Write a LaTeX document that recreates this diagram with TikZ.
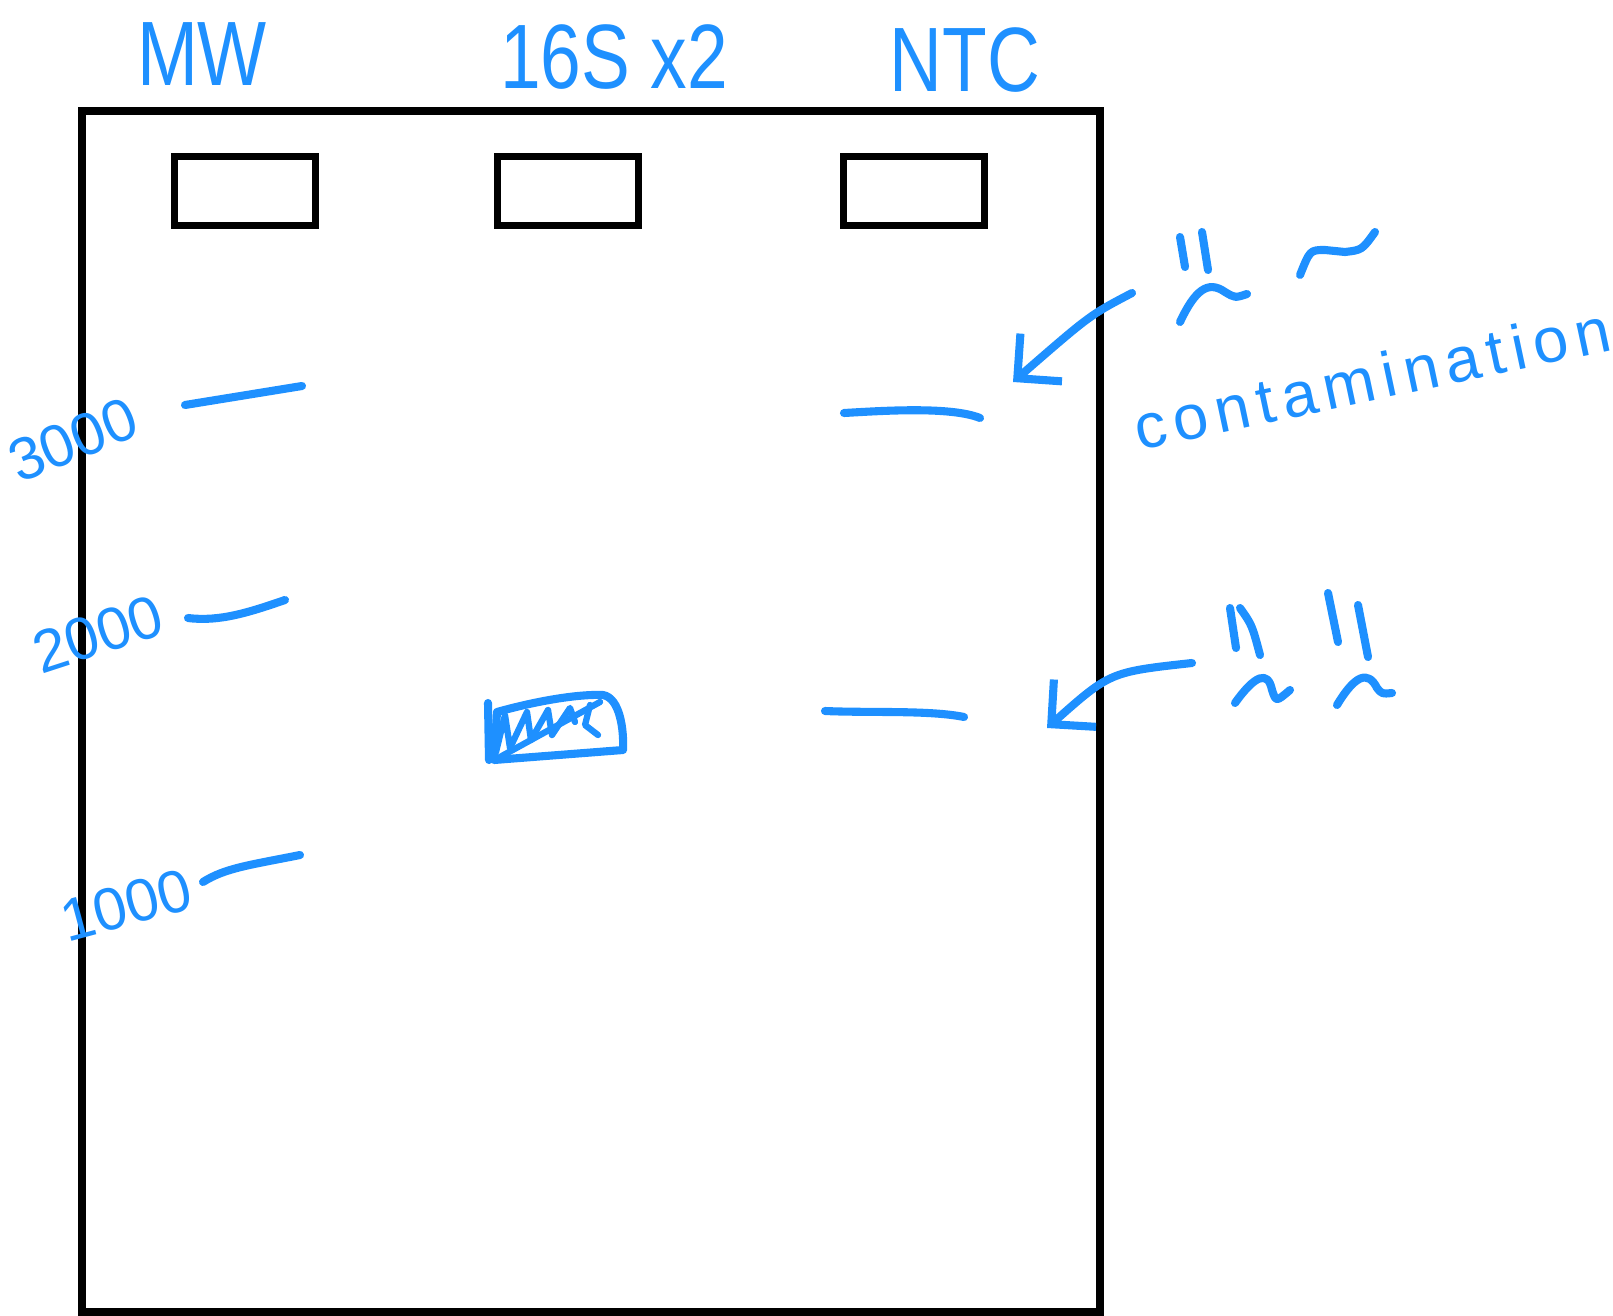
\documentclass[tikz,border=0pt]{standalone}
\usepackage{fontspec}
\setmainfont{Liberation Sans}
\newfontfamily\handfont[FakeStretch=0.8]{Liberation Sans}
\newfontfamily\handwide[LetterSpace=12]{Liberation Sans}
\usepackage{tikz}
\usetikzlibrary{arrows.meta}
\definecolor{pen}{RGB}{30,144,255}
\tikzset{
    ink/.style={draw=pen, line width=2.3pt, line cap=round, line join=round},
    gelline/.style={draw=black, line width=2pt},
    well/.style={gelline, minimum width=1.4cm, minimum height=0.69cm, inner sep=0pt},
    lanelabel/.style={text=pen, font=\handfont\fontsize{26}{26}\selectfont},
    sizelabel/.style={text=pen, font=\fontsize{17}{17}\selectfont, inner sep=0pt},
    pointer/.style={ink, -{Straight Barb[length=9pt,width=18pt]}}
}
\begin{document}
\begin{tikzpicture}[x=0.01cm, y=-0.01cm]
    \useasboundingbox (0,0) rectangle (1613,1316);
    % Define the lane positions
    \def\laneMW{245}
    \def\laneS{568}
    \def\laneNTC{914}
    \def\welly{191}

    % Draw the gel and the wells
    \draw[gelline, line width=2.1pt] (82,111) rectangle (1100,1312);
    \node[well] (wellMW) at (\laneMW,\welly) {};
    \node[well] (wellS) at (\laneS,\welly) {};
    \node[well] (wellNTC) at (\laneNTC,\welly) {};

    % Lane labels
    \node[lanelabel] (lblMW) at (202,54) {MW};
    \node[lanelabel] (lblS) at (614,57) {16S x2};
    \node[lanelabel] (lblNTC) at (965,60) {NTC};

    % Ladder bands and sizes
    \draw[ink] (185,405) -- (302,386);
    \draw[ink] (188,618) .. controls (220,622) and (250,612) .. (285,600);
    \draw[ink] (203,882) .. controls (225,868) and (250,865) .. (300,855);
    \node[sizelabel, rotate=22] (lbl3000) at (73,440) {3000};
    \node[sizelabel, rotate=18] (lbl2000) at (98,634) {2000};
    \node[sizelabel, rotate=15] (lbl1000) at (126,905) {1000};

    % Sample band (16S)
    \draw[ink] (488,703) -- (489,760);
    \draw[ink] (497,712) .. controls (540,700) and (580,694) .. (603,695)
        .. controls (620,698) and (624,730) .. (623,750) -- (494,760) -- (497,712);
    \draw[ink, line width=1.8pt] (496,752) -- (505,715) -- (510,748) -- (527,712) -- (531,740)
        -- (548,710) -- (552,735) -- (570,708) -- (575,722);
    \draw[ink, line width=1.8pt] (500,757) -- (600,702);
    \draw[ink, line width=1.8pt] (590,705) -- (585,725) -- (598,735);

    % NTC bands
    \draw[ink] (844,413) .. controls (880,411) and (950,406) .. (980,418);
    \draw[ink] (825,711) .. controls (870,713) and (930,710) .. (964,717);

    % Arrows to the NTC bands
    \coordinate (tailA) at (1132,293);
    \coordinate (tipA) at (1013,382);
    \coordinate (tailB) at (1192,663);
    \coordinate (tipB) at (1047,728);
    \draw[pointer] (tailA) .. controls (1090,315) .. (tipA);
    \draw[pointer] (tailB) .. controls (1110,672) .. (tipB);

    % Faces
    \draw[ink] (1180,237) -- (1185,267);
    \draw[ink] (1202,232) -- (1208,270);
    \draw[ink] (1180,322) .. controls (1195,290) and (1208,280) .. (1225,292)
        .. controls (1235,298) .. (1247,294);
    \draw[ink] (1300,275) .. controls (1310,250) .. (1325,250) -- (1345,252)
        .. controls (1362,250) .. (1375,232);
    \draw[ink] (1230,608) -- (1236,648);
    \draw[ink] (1240,608) .. controls (1252,625) .. (1260,655);
    \draw[ink] (1235,703) .. controls (1255,675) and (1268,670) .. (1272,690)
        .. controls (1276,702) .. (1290,690);
    \draw[ink] (1328,593) -- (1338,642);
    \draw[ink] (1358,605) -- (1368,657);
    \draw[ink] (1337,705) .. controls (1355,675) and (1368,670) .. (1377,688)
        .. controls (1382,694) .. (1392,693);

    \node[text=pen, rotate=12, font=\handwide\fontsize{18}{18}\selectfont] (lblCont) at (1372,378) {contamination};
\end{tikzpicture}
\end{document}
